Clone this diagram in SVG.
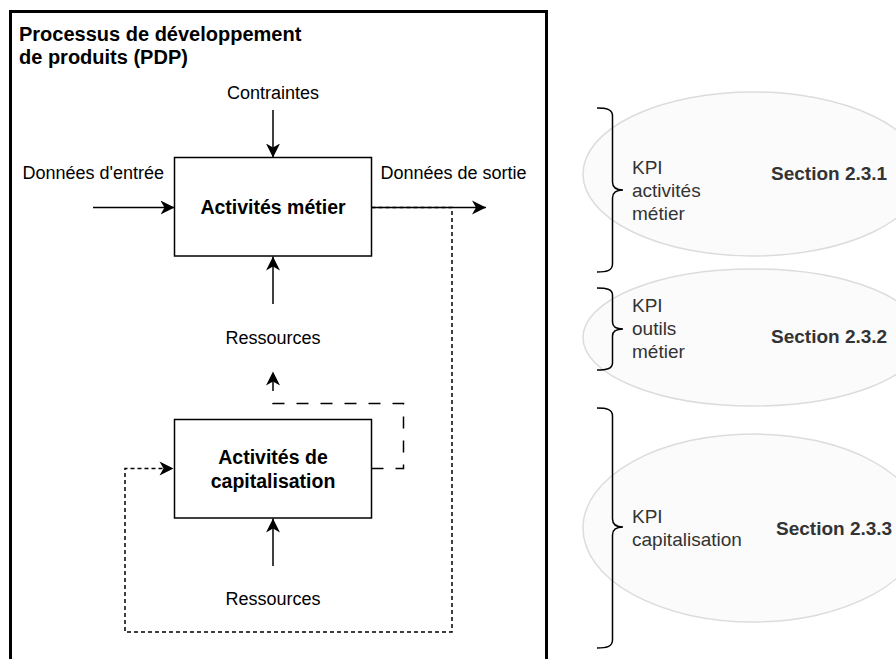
<svg xmlns="http://www.w3.org/2000/svg" width="896" height="659" viewBox="0 0 896 659">
<defs>
<style>
.lbl{font-family:"Liberation Sans",Arial,sans-serif;font-size:18px;fill:#000}
.box{fill:#fff;stroke:#000;stroke-width:1.5}
.boxt{font-family:"Liberation Sans",Arial,sans-serif;font-size:19.5px;font-weight:bold;fill:#000;text-anchor:middle}
.kpi{font-family:"Liberation Sans",Arial,sans-serif;font-size:19px;fill:#333}
.sec{font-family:"Liberation Sans",Arial,sans-serif;font-size:19px;font-weight:bold;fill:#333}
.ell{fill:#fbfbfb;stroke:#dcdcdc;stroke-width:1.5}
.brace{fill:none;stroke:#000;stroke-width:1.5}
.solid{fill:none;stroke:#000;stroke-width:1.5;marker-end:url(#arr)}
.dot{fill:none;stroke:#000;stroke-width:1.5;stroke-dasharray:4 3}
.dash{fill:none;stroke:#000;stroke-width:1.5;stroke-dasharray:12 12}
</style>
<marker id="arr" viewBox="0 0 15 15" markerWidth="15" markerHeight="15" refX="14" refY="7.5" orient="auto" markerUnits="userSpaceOnUse">
<path d="M0,0.5 L14,7.5 L0,14.5 L4,7.5 z" fill="#000"/>
</marker>
</defs>

<g id="pdp-frame">
<rect x="10.5" y="11.5" width="536" height="670" fill="#fff" stroke="#000" stroke-width="3"/>
<text x="19" y="40.5" font-family="Liberation Sans, Arial, sans-serif" font-size="20" font-weight="bold">Processus de développement</text>
<text x="19" y="63.5" font-family="Liberation Sans, Arial, sans-serif" font-size="20" font-weight="bold">de produits (PDP)</text>
</g>

<g id="ellipse-1"><ellipse class="ell" cx="753" cy="174" rx="170" ry="82"/></g>
<g id="ellipse-2"><ellipse class="ell" cx="753" cy="337.5" rx="170" ry="68.5"/></g>
<g id="ellipse-3"><ellipse class="ell" cx="753" cy="528" rx="170" ry="94"/></g>

<g id="connectors">
<path class="solid" d="M273,110 V157.5"/>
<path class="solid" d="M93,207.5 H174.5"/>
<path class="solid" d="M371.5,207.5 H486"/>
<path class="solid" d="M273,304 V256.5"/>
<path class="solid" d="M273,566 V518.5"/>
<path class="dot" d="M371.5,207.5 H452 V632 H125 V468.5 H165"/>
<path d="M159.5,461.5 L173.5,468.5 L159.5,475.5 L163.5,468.5 z" fill="#000"/>
<path class="dash" d="M371.5,468.5 H403.5 V403.5 H273 V380"/>
<path d="M266,385.5 L273,371.5 L280,385.5 L273,381.5 z" fill="#000"/>
</g>

<g id="activites-metier">
<rect class="box" x="174.5" y="157.5" width="197" height="98.5"/>
<text class="boxt" x="273" y="213.5">Activités métier</text>
</g>

<g id="activites-capitalisation">
<rect class="box" x="174.5" y="419.5" width="197" height="98.5"/>
<text class="boxt" x="273" y="463.5">Activités de</text>
<text class="boxt" x="273" y="487.5">capitalisation</text>
</g>

<g id="labels">
<text class="lbl" x="273" y="99" text-anchor="middle">Contraintes</text>
<text class="lbl" x="22.5" y="179.3">Données d'entrée</text>
<text class="lbl" x="380.5" y="179">Données de sortie</text>
<text class="lbl" x="273" y="344" text-anchor="middle">Ressources</text>
<text class="lbl" x="273" y="605" text-anchor="middle">Ressources</text>
</g>

<g id="brace-1">
<path class="brace" d="M597,108 C606,108 612.5,109 612.5,116 V182 C612.5,188 616,190 623,190 C616,190 612.5,192 612.5,198 V264 C612.5,271 606,272 597,272"/>
</g>
<g id="brace-2">
<path class="brace" d="M597,288 C606,288 612.5,289 612.5,295 V322 C612.5,327 616,329 623,329 C616,329 612.5,331 612.5,336 V363 C612.5,369 606,370 597,370"/>
</g>
<g id="brace-3">
<path class="brace" d="M597,408 C606,408 612.5,409 612.5,416 V519 C612.5,525 616,527 623,527 C616,527 612.5,529 612.5,535 V640 C612.5,647 606,648 597,648"/>
</g>

<g id="kpi-1">
<text class="kpi" x="632" y="174">KPI</text>
<text class="kpi" x="632" y="197">activités</text>
<text class="kpi" x="632" y="220">métier</text>
<text class="sec" x="771" y="180">Section 2.3.1</text>
</g>
<g id="kpi-2">
<text class="kpi" x="632" y="312">KPI</text>
<text class="kpi" x="632" y="335">outils</text>
<text class="kpi" x="632" y="358">métier</text>
<text class="sec" x="771" y="343">Section 2.3.2</text>
</g>
<g id="kpi-3">
<text class="kpi" x="632" y="523">KPI</text>
<text class="kpi" x="632" y="546">capitalisation</text>
<text class="sec" x="776" y="535">Section 2.3.3</text>
</g>
</svg>
